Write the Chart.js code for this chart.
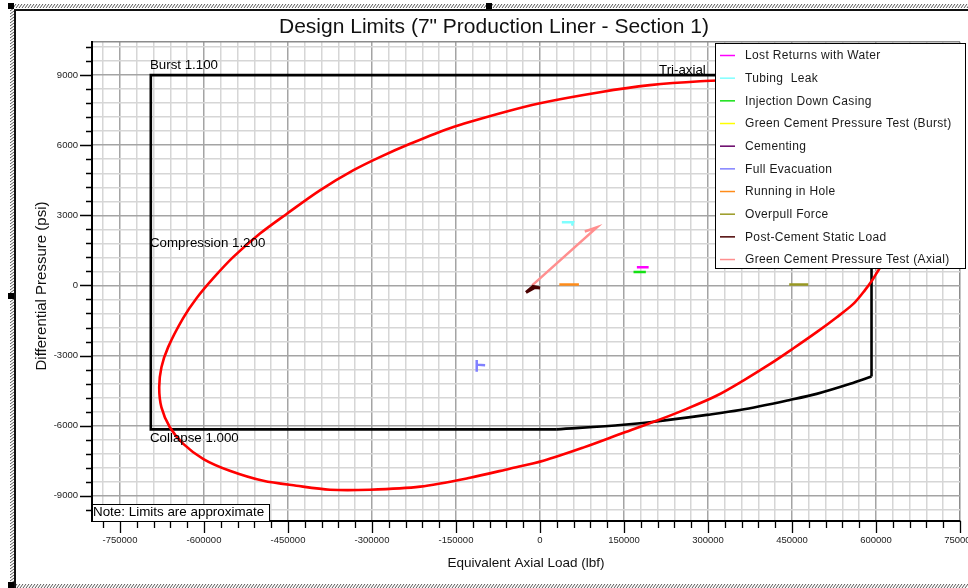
<!DOCTYPE html>
<html>
<head>
<meta charset="utf-8">
<script src="https://cdn.jsdelivr.net/npm/chart.js@4.4.1/dist/chart.umd.min.js"></script>
<style>
  html, body { margin: 0; padding: 0; background: #fff; }
  canvas { display: block; }
</style>
</head>
<body>
<canvas id="c" width="968" height="588"></canvas>
<script>
// ---- Tri-axial (von Mises) ellipse: equivalent axial load (lbf) / differential pressure (psi)
const triaxialLoad = [
  357000, 286000, 196000, 107000, 0, -71000, -161000, -232000, -286000, -333000,
  -393000, -452000, -500000, -548000, -583000, -613000, -637500, -664000, -676000, -680000,
  -676000, -661000, -637000, -601000, -554000, -494000, -435000, -375000, -304000, -214000,
  -125000, -54000, 6000, 77000, 143000, 208000, 262000, 316000, 363000, 411000,
  452000, 494000, 530000, 560000, 580000, 595000, 604000, 614000, 632000, 652000,
  664000, 670000, 664000, 650000, 627000, 591000, 543000, 484000, 423000, 357000
];
const triaxialPressure = [
  8790, 8740, 8570, 8270, 7800, 7370, 6730, 6060, 5490, 4930,
  4070, 3070, 2220, 1210, 320, -540, -1410, -2640, -3500, -4360,
  -5220, -6070, -6780, -7430, -7930, -8360, -8570, -8740, -8740, -8610,
  -8230, -7840, -7500, -6940, -6360, -5790, -5280, -4710, -4070, -3360,
  -2700, -2000, -1360, -780, -210, 290, 640, 990, 1630, 2910,
  3770, 4630, 5490, 6340, 7030, 7670, 8190, 8610, 8790, 8790
];

// ---- API limits: burst 1.100, compression 1.200, tension (straight edges) ...
const apiBoxLoad = [30000, -695000, -695000, 592000, 592000];
const apiBoxPressure = [-6160, -6160, 9000, 9000, -3900];
// ... and collapse 1.000 reduced by axial tension
const apiCollapseLoad = [30000, 149000, 208000, 298000, 357000, 446000, 494000, 554000, 592000];
const apiCollapsePressure = [-6160, -5960, -5820, -5540, -5330, -4900, -4640, -4210, -3900];

// ---- Load cases
const lostReturnsLoad = [173000, 194000];
const lostReturnsPressure = [780, 780];
const tubingLeakLoad = [39000, 59000, 57000];
const tubingLeakPressure = [2700, 2700, 2560];
const injectionLoad = [167000, 189000];
const injectionPressure = [570, 570];
const gcBurstLoad = [];
const gcBurstPressure = [];
const cementingLoad = [];
const cementingPressure = [];
const fullEvacLoad = [-113000, -113000, -113000, -98000];
const fullEvacPressure = [-3190, -3690, -3390, -3410];
const runningLoad = [34500, 69500];
const runningPressure = [40, 40];
const overpullLoad = [445000, 479000];
const overpullPressure = [40, 40];
const postCementLoad = [-25000, -9000, 0, -12500, -25000];
const postCementPressure = [-300, -90, -110, -40, -300];
const gcAxialLoad = [-14000, 102000, 80000];
const gcAxialPressure = [0, 2490, 2310];

// ---- Axes
const loadRange = [-800000, 750000];
const loadMinorStep = 30000;
const loadLabelStep = 150000;
const pressureRange = [-10080, 10430];
const pressureMinorStep = 600;
const pressureLabelStep = 3000;

const FONT = '"Liberation Sans", Arial, Helvetica, sans-serif';
const TITLE = 'Design Limits (7" Production Liner - Section 1)';
const Y_TITLE = 'Differential Pressure (psi)';

function pts(xs, ys) { return xs.map((v, i) => ({ x: v, y: ys[i] })); }

function axisTicks(range, step) {
  const vals = [range[0]];
  let v = Math.ceil(range[0] / step) * step;
  if (v === range[0]) v += step;
  for (; v < range[1]; v += step) vals.push(v);
  vals.push(range[1]);
  return vals.map(value => ({ value }));
}

const loadCase = (label, xs, ys, color, width) => ({
  label, data: pts(xs, ys), borderColor: color, backgroundColor: color,
  borderWidth: width || 2, showLine: true, pointRadius: 0, tension: 0, inLegend: true
});

const datasets = [
  loadCase('Lost Returns with Water', lostReturnsLoad, lostReturnsPressure, '#ff00ff', 2.5),
  loadCase('Tubing  Leak', tubingLeakLoad, tubingLeakPressure, '#7fffff', 2.5),
  loadCase('Injection Down Casing', injectionLoad, injectionPressure, '#14e014', 2.5),
  loadCase('Green Cement Pressure Test (Burst)', gcBurstLoad, gcBurstPressure, '#ffff00'),
  loadCase('Cementing', cementingLoad, cementingPressure, '#660066'),
  loadCase('Full Evacuation', fullEvacLoad, fullEvacPressure, '#8080ff', 2.5),
  loadCase('Running in Hole', runningLoad, runningPressure, '#ff8c1a', 2.5),
  loadCase('Overpull Force', overpullLoad, overpullPressure, '#999922', 2.5),
  loadCase('Post-Cement Static Load', postCementLoad, postCementPressure, '#4a0000', 3),
  loadCase('Green Cement Pressure Test (Axial)', gcAxialLoad, gcAxialPressure, '#ff8f8f', 2.5),
  {
    label: 'Tri-axial', data: pts(triaxialLoad, triaxialPressure),
    borderColor: '#ff0000', borderWidth: 2.6, showLine: true, pointRadius: 0, tension: 0.3
  },
  {
    label: 'API limits', data: pts(apiBoxLoad, apiBoxPressure),
    borderColor: '#000000', borderWidth: 2.6, showLine: true, pointRadius: 0, tension: 0
  },
  {
    label: 'API collapse', data: pts(apiCollapseLoad, apiCollapsePressure),
    borderColor: '#000000', borderWidth: 2.6, showLine: true, pointRadius: 0,
    cubicInterpolationMode: 'monotone'
  }
];

// frame, titles, annotations, tick marks and legend box
const decorations = {
  id: 'decorations',
  beforeDraw(chart) {
    const ctx = chart.ctx;
    const a = chart.chartArea;
    ctx.save();
    ctx.fillStyle = '#fff';
    ctx.fillRect(0, 0, chart.width, chart.height);
    // hatched selection frame
    ctx.strokeStyle = '#555';
    ctx.lineWidth = 1;
    ctx.beginPath();
    for (let x = 10; x < chart.width; x += 3) { ctx.moveTo(x, 8); ctx.lineTo(x + 3, 4); }
    for (let x = 14; x < chart.width; x += 3) { ctx.moveTo(x, 588); ctx.lineTo(x + 3, 584); }
    for (let y = 8; y < chart.height; y += 3) { ctx.moveTo(10, y + 3); ctx.lineTo(14, y); }
    ctx.stroke();
    ctx.fillStyle = '#000';
    [[8, 3], [486, 3], [8, 293], [8, 582]].forEach(([x, y]) => ctx.fillRect(x, y, 6, 6));
    ctx.fillStyle = '#111';
    ctx.fillRect(14, 9, chart.width - 14, 2);
    ctx.fillRect(14, 9, 2, chart.height - 9);

    // chart title and pressure axis title
    ctx.fillStyle = '#111';
    ctx.textAlign = 'center';
    ctx.textBaseline = 'middle';
    ctx.font = '21px ' + FONT;
    ctx.fillText(TITLE, 494, 27);
    ctx.translate(42, 286);
    ctx.rotate(-Math.PI / 2);
    ctx.font = '15px ' + FONT;
    ctx.fillText(Y_TITLE, 0, 0);
    ctx.restore();
  },
  afterDatasetsDraw(chart) {
    const ctx = chart.ctx;
    const a = chart.chartArea;
    ctx.save();
    ctx.fillStyle = '#000';
    ctx.font = '13.3px ' + FONT;
    ctx.textAlign = 'left';
    ctx.textBaseline = 'middle';
    ctx.fillText('Burst 1.100', 150, 65);
    ctx.fillText('Compression 1.200', 150, 243);
    ctx.fillText('Collapse 1.000', 150, 438.5);
    ctx.fillText('Tri-axial', 659, 70);

    // note box
    ctx.fillStyle = '#fff';
    ctx.fillRect(a.left, 504, 177, a.bottom - 504);
    ctx.strokeStyle = '#000';
    ctx.lineWidth = 1;
    ctx.strokeRect(a.left + 0.5, 504.5, 177, a.bottom - 504);
    ctx.fillStyle = '#000';
    ctx.font = '13.4px ' + FONT;
    ctx.fillText('Note: Limits are approximate', a.left + 1, 512.5);

    // legend
    const lx = 715, ly = 43, lw = 250, lh = 225;
    ctx.fillStyle = '#fff';
    ctx.fillRect(lx, ly, lw, lh);
    ctx.strokeStyle = '#000';
    ctx.lineWidth = 1;
    ctx.strokeRect(lx + 0.5, ly + 0.5, lw, lh);
    ctx.font = '12px ' + FONT;
    if ('letterSpacing' in ctx) ctx.letterSpacing = '0.35px';
    chart.data.datasets.filter(d => d.inLegend).forEach((d, i) => {
      const yy = 55.5 + i * 22.67;
      ctx.strokeStyle = d.borderColor;
      ctx.lineWidth = 1.5;
      ctx.beginPath();
      ctx.moveTo(720, yy);
      ctx.lineTo(735, yy);
      ctx.stroke();
      ctx.fillStyle = '#1a1a1a';
      ctx.fillText(d.label, 745, yy + 0.5);
    });
    ctx.restore();
  },
  afterDraw(chart) {
    const ctx = chart.ctx;
    const { x, y } = chart.scales;
    const a = chart.chartArea;
    ctx.save();
    ctx.strokeStyle = '#000';
    ctx.lineWidth = 1.3;
    ctx.beginPath();
    x.ticks.forEach(t => {
      if (t.value <= x.min) return;
      const px = Math.round(x.getPixelForValue(t.value)) + 0.5;
      const len = t.value % loadLabelStep === 0 ? 12 : 7;
      ctx.moveTo(px, a.bottom);
      ctx.lineTo(px, a.bottom + len);
    });
    y.ticks.forEach(t => {
      if (t.value % pressureMinorStep !== 0) return;
      const py = Math.round(y.getPixelForValue(t.value)) + 0.5;
      const len = t.value % pressureLabelStep === 0 ? 12 : 6;
      ctx.moveTo(a.left, py);
      ctx.lineTo(a.left - len, py);
    });
    ctx.stroke();
    ctx.restore();
  }
};

const gridColor = (step, max) => c => {
  const v = c.tick ? c.tick.value : 0;
  if (v === max) return '#8c8c8c';
  return v % step === 0 ? '#a4a4a4' : '#d6d6d6';
};

new Chart(document.getElementById('c'), {
  type: 'scatter',
  data: { datasets },
  plugins: [decorations],
  options: {
    responsive: false,
    animation: false,
    devicePixelRatio: 1,
    layout: { padding: { left: 16, right: 8, top: 41.7, bottom: 0 } },
    plugins: {
      legend: { display: false },
      tooltip: { enabled: false },
      title: { display: false }
    },
    scales: {
      x: {
        type: 'linear',
        min: loadRange[0],
        max: loadRange[1],
        afterBuildTicks: s => { s.ticks = axisTicks(loadRange, loadMinorStep); },
        afterFit: s => { s.height = 67; s.paddingLeft = 0; s.paddingRight = 0; },
        ticks: {
          autoSkip: false, maxRotation: 0, padding: 14, color: '#222',
          font: { family: FONT, size: 9.5 },
          callback: v => (v % loadLabelStep === 0 ? String(v) : '')
        },
        grid: { color: gridColor(loadLabelStep, loadRange[1]), lineWidth: 1.5, drawTicks: false },
        border: { display: true, color: '#000', width: 2 },
        title: {
          display: true, text: 'Equivalent Axial Load (lbf)', color: '#111',
          font: { family: FONT, size: 13.5 }, padding: { top: 0, bottom: 17 }
        }
      },
      y: {
        type: 'linear',
        min: pressureRange[0],
        max: pressureRange[1],
        afterBuildTicks: s => { s.ticks = axisTicks(pressureRange, pressureMinorStep); },
        afterFit: s => { s.width = 76; s.paddingTop = 0; s.paddingBottom = 0; },
        ticks: {
          autoSkip: false, padding: 14, color: '#222',
          font: { family: FONT, size: 9.5 },
          callback: v => (v % pressureLabelStep === 0 ? String(v) : '')
        },
        grid: { color: gridColor(pressureLabelStep, pressureRange[1]), lineWidth: 1.5, drawTicks: false },
        border: { display: true, color: '#000', width: 2 },
        title: { display: false }
      }
    }
  }
});
</script>
</body>
</html>
